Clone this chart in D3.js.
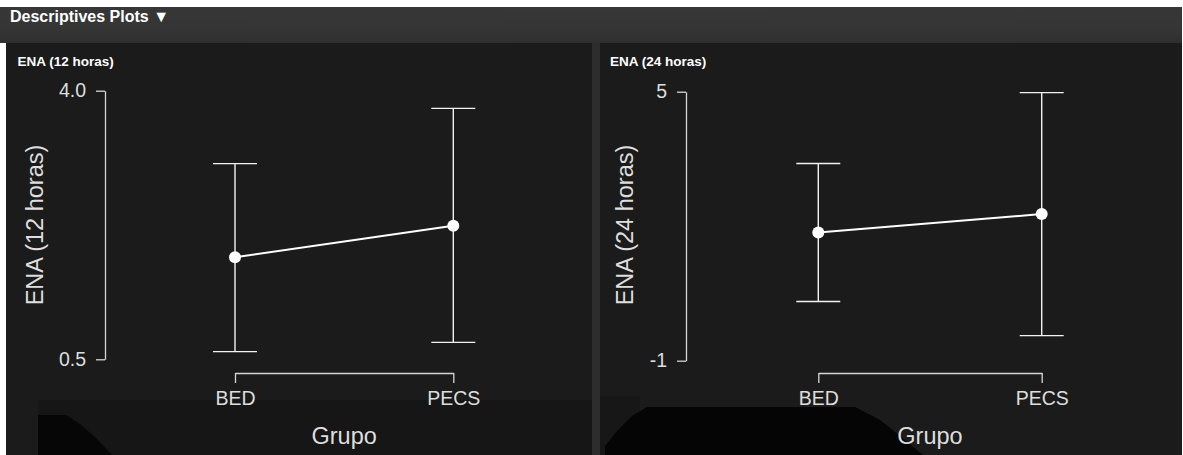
<!DOCTYPE html>
<html>
<head>
<meta charset="utf-8">
<script src="https://cdn.jsdelivr.net/npm/d3@7"></script>
<style>
  html, body { margin: 0; padding: 0; background: #ffffff; }
  svg { display: block; font-family: "Liberation Sans", Arial, Helvetica, sans-serif; }
</style>
</head>
<body>
<svg id="chart" width="1183" height="455"></svg>
<script>
// Group means with their error-bar limits, one set per outcome
const groups = ["BED", "PECS"];

const ena12Mean  = [1.83, 2.24];
const ena12Lower = [0.60, 0.72];
const ena12Upper = [3.05, 3.77];
const ena12Ticks = [0.5, 4.0];

const ena24Mean  = [1.86, 2.27];
const ena24Lower = [0.32, -0.44];
const ena24Upper = [3.40, 4.98];
const ena24Ticks = [-1, 5];

const W = 1183, H = 455;
const svg = d3.select("#chart");
const defs = svg.append("defs");

// Page frame and header band
svg.append("rect").attr("width", W).attr("height", H).attr("fill", "#ffffff");

const band = defs.append("linearGradient").attr("id", "band")
  .attr("x1", 0).attr("y1", 0).attr("x2", 0).attr("y2", 1);
band.append("stop").attr("offset", "0%").attr("stop-color", "#373737");
band.append("stop").attr("offset", "60%").attr("stop-color", "#353535");
band.append("stop").attr("offset", "100%").attr("stop-color", "#2f2f2f");

svg.append("rect").attr("x", 0).attr("y", 7).attr("width", 1182).attr("height", 36)
  .attr("fill", "url(#band)");
svg.append("text")
  .attr("x", 10).attr("y", 22)
  .attr("fill", "#ffffff")
  .attr("font-size", 16).attr("font-weight", "bold")
  .text("Descriptives Plots \u25BC");

// Panel backgrounds and the divider between them
svg.append("rect").attr("x", 6).attr("y", 43).attr("width", 586).attr("height", H - 43).attr("fill", "#1b1b1b");
svg.append("rect").attr("x", 592).attr("y", 43).attr("width", 8).attr("height", H - 43).attr("fill", "#2d2d2d");
svg.append("rect").attr("x", 600).attr("y", 43).attr("width", 582).attr("height", H - 43).attr("fill", "#1b1b1b");

// Shadowed strip along the bottom of the panels
const shade = svg.append("g").attr("class", "shade");
shade.append("rect").attr("x", 38).attr("y", 400).attr("width", 554).attr("height", 55).attr("fill", "#161616");
shade.append("path").attr("fill", "#060606")
  .attr("d", "M38,455 L38,415 L66,415 L80,424 L96,438 L112,455 Z");
shade.append("rect").attr("x", 600).attr("y", 396).attr("width", 40).attr("height", 59).attr("fill", "#171717");
shade.append("path").attr("fill", "#050505")
  .attr("d", "M605,455 L605,446 L618,430 L632,416 L647,407 L855,407 L880,420 L905,440 L923,455 Z");

// Tick labels use a plain hyphen for negatives
const hyphen = f => v => f(v).replace("\u2212", "-");

const panels = [
  {
    title: "ENA (12 horas)", mean: ena12Mean, lower: ena12Lower, upper: ena12Upper,
    ticks: ena12Ticks, fmt: hyphen(d3.format(".1f")),
    titleX: 17.5, axisX: 105, yTop: 90.7, yBot: 359.3, xRange: [235, 453.3], yTitleX: 35
  },
  {
    title: "ENA (24 horas)", mean: ena24Mean, lower: ena24Lower, upper: ena24Upper,
    ticks: ena24Ticks, fmt: hyphen(d3.format("d")),
    titleX: 610, axisX: 686, yTop: 91.7, yBot: 360.7, xRange: [818.3, 1041.7], yTitleX: 625
  }
];

const axisColor = "#d6d6d6";
const textColor = "#dedede";
const xAxisY = 373;

panels.forEach(p => {
  const g = svg.append("g");

  g.append("text")
    .attr("x", p.titleX).attr("y", 65.5)
    .attr("fill", "#ffffff").attr("font-size", 13.5).attr("font-weight", "bold")
    .text(p.title);

  const y = d3.scaleLinear().domain(d3.extent(p.ticks)).range([p.yBot, p.yTop]);
  const x = d3.scalePoint().domain(groups).range(p.xRange);

  // y axis
  const ya = g.append("g")
    .attr("transform", `translate(${p.axisX},0)`)
    .call(d3.axisLeft(y).tickValues(p.ticks).tickFormat(p.fmt).tickSize(9).tickSizeOuter(0).tickPadding(10));
  ya.select(".domain").attr("stroke", axisColor).attr("stroke-width", 1.3);
  ya.selectAll(".tick line").attr("stroke", axisColor).attr("stroke-width", 1.3);
  ya.selectAll(".tick text").attr("fill", textColor).attr("font-size", 19.5)
    .attr("font-family", "Liberation Sans, Arial, sans-serif");

  // x axis
  const xa = g.append("g")
    .attr("transform", `translate(0,${xAxisY})`)
    .call(d3.axisBottom(x).tickSize(10).tickSizeOuter(0).tickPadding(8));
  xa.select(".domain").attr("stroke", axisColor).attr("stroke-width", 1.3);
  xa.selectAll(".tick line").attr("stroke", axisColor).attr("stroke-width", 1.3);
  xa.selectAll(".tick text").attr("fill", textColor).attr("font-size", 19.5)
    .attr("font-family", "Liberation Sans, Arial, sans-serif");

  // axis titles
  g.append("text")
    .attr("transform", `translate(${p.yTitleX},225) rotate(-90)`)
    .attr("text-anchor", "middle").attr("dominant-baseline", "central")
    .attr("fill", textColor).attr("font-size", 23.5)
    .text(p.title);
  g.append("text")
    .attr("x", (p.xRange[0] + p.xRange[1]) / 2).attr("y", 444)
    .attr("text-anchor", "middle")
    .attr("fill", textColor).attr("font-size", 23.5)
    .text("Grupo");

  const rows = groups.map((k, i) => ({ k, m: p.mean[i], lo: p.lower[i], hi: p.upper[i] }));

  // error bars
  const eb = g.append("g").attr("stroke", "#f2f2f2").attr("stroke-width", 1.4);
  eb.selectAll("line.stem").data(rows).join("line").attr("class", "stem")
    .attr("x1", d => x(d.k)).attr("x2", d => x(d.k))
    .attr("y1", d => y(d.lo)).attr("y2", d => y(d.hi));
  eb.selectAll("line.capHi").data(rows).join("line").attr("class", "capHi")
    .attr("x1", d => x(d.k) - 22).attr("x2", d => x(d.k) + 22)
    .attr("y1", d => y(d.hi)).attr("y2", d => y(d.hi));
  eb.selectAll("line.capLo").data(rows).join("line").attr("class", "capLo")
    .attr("x1", d => x(d.k) - 22).attr("x2", d => x(d.k) + 22)
    .attr("y1", d => y(d.lo)).attr("y2", d => y(d.lo));

  // line through the means
  g.append("path").datum(rows)
    .attr("fill", "none").attr("stroke", "#ffffff").attr("stroke-width", 2)
    .attr("d", d3.line().x(d => x(d.k)).y(d => y(d.m)));

  g.selectAll("circle").data(rows).join("circle")
    .attr("cx", d => x(d.k)).attr("cy", d => y(d.m)).attr("r", 6)
    .attr("fill", "#ffffff");
});
</script>
</body>
</html>
